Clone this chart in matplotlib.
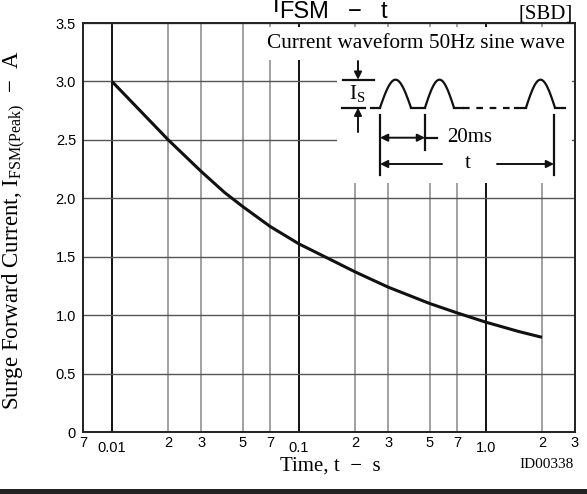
import numpy as np
import matplotlib.pyplot as plt
from matplotlib.ticker import FixedLocator, FixedFormatter
from matplotlib.patches import Rectangle

plt.rcParams['mathtext.fontset'] = 'custom'
plt.rcParams['mathtext.rm'] = 'Liberation Serif'
plt.rcParams['mathtext.it'] = 'Liberation Serif:italic'

# surge current vs. time
time_s = [0.01, 0.02, 0.03, 0.04, 0.05, 0.07, 0.1, 0.15, 0.2, 0.3, 0.5, 0.7, 1.0, 1.5, 2.0]
ifsm_a = [3.0, 2.50, 2.23, 2.05, 1.93, 1.76, 1.61, 1.47, 1.37, 1.24, 1.10, 1.02, 0.94, 0.86, 0.81]

major_x = [0.01, 0.1, 1.0]
major_x_labels = ['0.01', '0.1', '1.0']
minor_x = [0.007, 0.02, 0.03, 0.05, 0.07, 0.2, 0.3, 0.5, 0.7, 2, 3]
minor_x_labels = ['7', '2', '3', '5', '7', '2', '3', '5', '7', '2', '3']
y_ticks = [0, 0.5, 1.0, 1.5, 2.0, 2.5, 3.0, 3.5]
y_labels = ['0', '0.5', '1.0', '1.5', '2.0', '2.5', '3.0', '3.5']

W, H = 587, 494
SANS = 'Liberation Sans'
SERIF = 'Liberation Serif'

fig = plt.figure(figsize=(W / 100, H / 100), dpi=100)
ax = fig.add_axes([83 / W, 1 - 432 / H, (575 - 83) / W, (432 - 23) / H])

ax.plot(time_s, ifsm_a, color='#111111', lw=2.2, solid_capstyle='butt', zorder=3)

ax.set_xscale('log')
ax.set_xlim(0.007, 3)
ax.set_ylim(0, 3.5)
ax.xaxis.set_major_locator(FixedLocator(major_x))
ax.xaxis.set_major_formatter(FixedFormatter(major_x_labels))
ax.xaxis.set_minor_locator(FixedLocator(minor_x))
ax.xaxis.set_minor_formatter(FixedFormatter(minor_x_labels))
ax.set_yticks(y_ticks)
ax.set_yticklabels(y_labels)

ax.tick_params(axis='x', which='major', length=0, pad=6.5, labelsize=10.5)
ax.tick_params(axis='x', which='minor', length=0, pad=3.2, labelsize=10.5)
ax.tick_params(axis='y', length=0, pad=5, labelsize=10.5)
for lab in ax.get_xticklabels(which='both') + ax.get_yticklabels():
    lab.set_fontfamily(SANS)

ax.grid(True, axis='x', which='major', color='#111111', lw=1.4)
ax.grid(True, axis='x', which='minor', color='#888888', lw=1.1)
ax.grid(True, axis='y', which='major', color='#555555', lw=1.0)
ax.set_axisbelow(True)
for s in ax.spines.values():
    s.set_linewidth(1.4)
    s.set_color('#222222')

# axis labels
fig.text(14 / W, 1 - 230 / H,
         r'Surge Forward Current, I$_{\mathrm{FSM(Peak)}}$  $-$  A',
         rotation=90, ha='center', va='center', fontsize=16.5, family=SERIF)
fig.text(330 / W, 1 - 466 / H, 'Time, t  \u2212  s', ha='center', va='center',
         fontsize=15, family=SERIF)
fig.text(574 / W, 1 - 465 / H, 'ID00338', ha='right', va='center',
         fontsize=11, family=SERIF)

# title; the big I is clipped by the top edge like in the scan
fig.text(273 / W, 1 - 12 / H, 'I', ha='left', va='baseline', fontsize=17, family=SANS)
fig.text(279 / W, 1 - 18 / H, 'FSM', ha='left', va='baseline', fontsize=17, family=SANS)
fig.text(355 / W, 1 - 18 / H, '\u2212', ha='center', va='baseline', fontsize=17, family=SANS)
fig.text(381 / W, 1 - 18 / H, 't', ha='left', va='baseline', fontsize=17, family=SANS)
fig.text(573 / W, 1 - 18 / H, '[SBD]', ha='right', va='baseline', fontsize=15, family=SERIF)

# overlay in pixel units for the waveform sketch
ov = fig.add_axes([0, 0, 1, 1])
ov.set_xlim(0, W)
ov.set_ylim(H, 0)
ov.axis('off')

ov.add_patch(Rectangle((255, 27), 317, 33, facecolor='white', edgecolor='none'))
ov.add_patch(Rectangle((337, 58), 235, 125, facecolor='white', edgecolor='none'))
ov.text(416, 44, 'Current waveform 50Hz sine wave', ha='center', va='center',
        fontsize=15.3, family=SERIF)

base, amp = 107.7, 28
k = dict(color='#111111', lw=1.6)


def arch(x0, x1):
    xs = np.linspace(x0, x1, 50)
    ov.plot(xs, base - amp * np.sin(np.pi * (xs - x0) / (x1 - x0)), **k)


ov.plot([371, 380], [base, base], **k)
arch(380, 411)
ov.plot([411, 425], [base, base], **k)
arch(425, 454)
ov.plot([454, 463], [base, base], **k)
ov.plot([463, 515], [base, base], color='#111111', lw=1.6, dashes=(3, 3))
ov.plot([515, 526], [base, base], **k)
arch(526, 555)
ov.plot([555, 565], [base, base], **k)

# Is marker
ov.plot([343, 374], [base - amp, base - amp], **k)
ov.plot([342, 365], [base, base], **k)
ap = dict(arrowstyle='-|>', mutation_scale=11, lw=1.4, color='#111111', shrinkA=0, shrinkB=0)
ov.annotate('', xy=(358, base - amp), xytext=(358, 61), arrowprops=ap)
ov.annotate('', xy=(358, base), xytext=(358, 132), arrowprops=ap)
ov.text(357, 94, r'I$_{\mathrm{S}}$', ha='center', va='center', fontsize=15, family=SERIF)

# period and duration markers
ov.plot([380, 380], [115, 175], **k)
ov.plot([425, 425], [115, 150], **k)
ov.plot([554, 554], [115, 175], **k)
ap2 = dict(arrowstyle='<|-|>', mutation_scale=11, lw=1.4, color='#111111', shrinkA=0, shrinkB=0)
ov.annotate('', xy=(425, 137.7), xytext=(380, 137.7), arrowprops=ap2)
ov.plot([425, 437], [137.7, 137.7], **k)
ov.text(447, 137, '20ms', ha='left', va='center', fontsize=15, family=SERIF)
ov.annotate('', xy=(380, 164), xytext=(442, 164), arrowprops=ap)
ov.annotate('', xy=(554, 164), xytext=(497, 164), arrowprops=ap)
ov.text(468, 163, 't', ha='center', va='center', fontsize=15, family=SERIF)

# thick rule along the bottom edge
ov.add_patch(Rectangle((0, 489), W, 6, facecolor='#222222', edgecolor='none'))

fig.savefig('out.png', dpi=100)
